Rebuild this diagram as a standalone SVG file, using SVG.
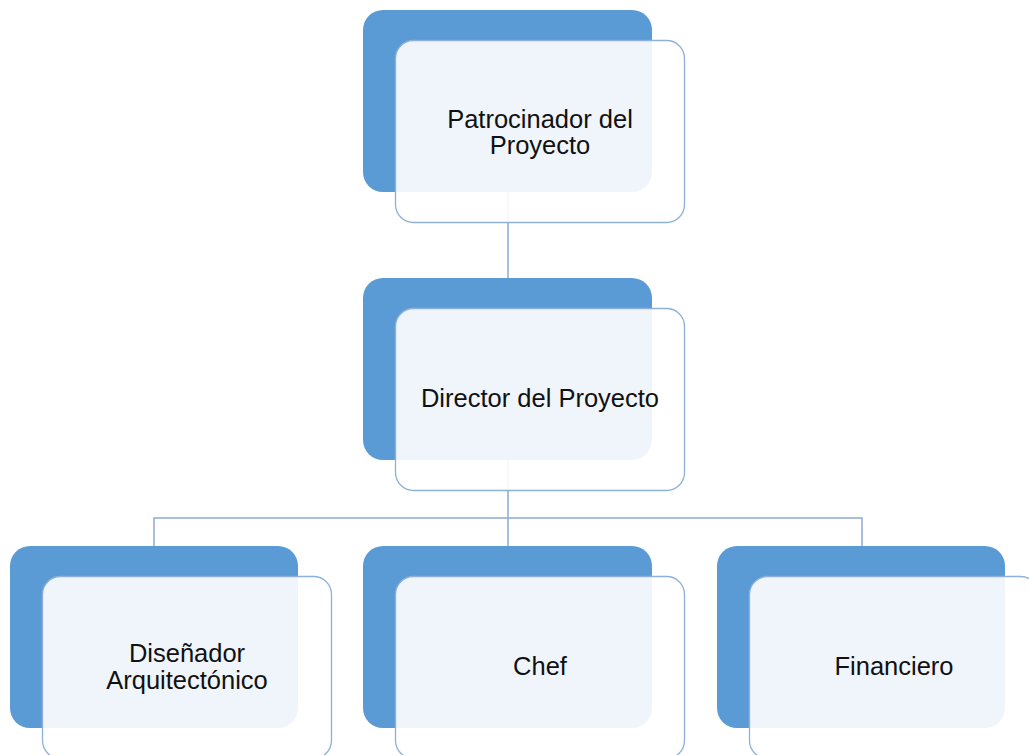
<svg xmlns="http://www.w3.org/2000/svg" width="1029" height="755" viewBox="0 0 1029 755">
<style>
.back{fill:#5B9BD5;}
.front{fill:#FFFFFF;fill-opacity:0.9;stroke:#8FB0D8;stroke-width:1.3;}
.conn{fill:none;stroke:#8EAAD2;stroke-width:1.5;}
.lbl{font-family:"Liberation Sans",Arial,sans-serif;font-size:25.5px;fill:#111111;text-anchor:middle;}
</style>
<rect width="1029" height="755" fill="#FFFFFF"/>
<g id="connectors">
<path class="conn" d="M508,192 V278"/>
<path class="conn" d="M508,460 V546"/>
<path class="conn" d="M154,546 V518 H862 V546"/>
</g>
<g id="node-patrocinador">
<rect class="back" x="363" y="10" width="289" height="182" rx="20"/>
<rect class="front" x="395.5" y="40.5" width="289" height="182" rx="18"/>
<text class="lbl" x="540" y="128">Patrocinador del</text>
<text class="lbl" x="540" y="154">Proyecto</text>
</g>
<g id="node-director">
<rect class="back" x="363" y="278" width="289" height="182" rx="20"/>
<rect class="front" x="395.5" y="308.5" width="289" height="182" rx="18"/>
<text class="lbl" x="540" y="407">Director del Proyecto</text>
</g>
<g id="node-disenador">
<rect class="back" x="10" y="546" width="288" height="182" rx="20"/>
<rect class="front" x="42.5" y="576.5" width="289" height="182" rx="18"/>
<text class="lbl" x="187" y="662">Diseñador</text>
<text class="lbl" x="187" y="689">Arquitectónico</text>
</g>
<g id="node-chef">
<rect class="back" x="363" y="546" width="289" height="182" rx="20"/>
<rect class="front" x="395.5" y="576.5" width="289" height="182" rx="18"/>
<text class="lbl" x="540" y="675">Chef</text>
</g>
<g id="node-financiero">
<rect class="back" x="717" y="546" width="288" height="182" rx="20"/>
<rect class="front" x="749.5" y="576.5" width="289" height="182" rx="18"/>
<text class="lbl" x="894" y="675">Financiero</text>
</g>
</svg>
